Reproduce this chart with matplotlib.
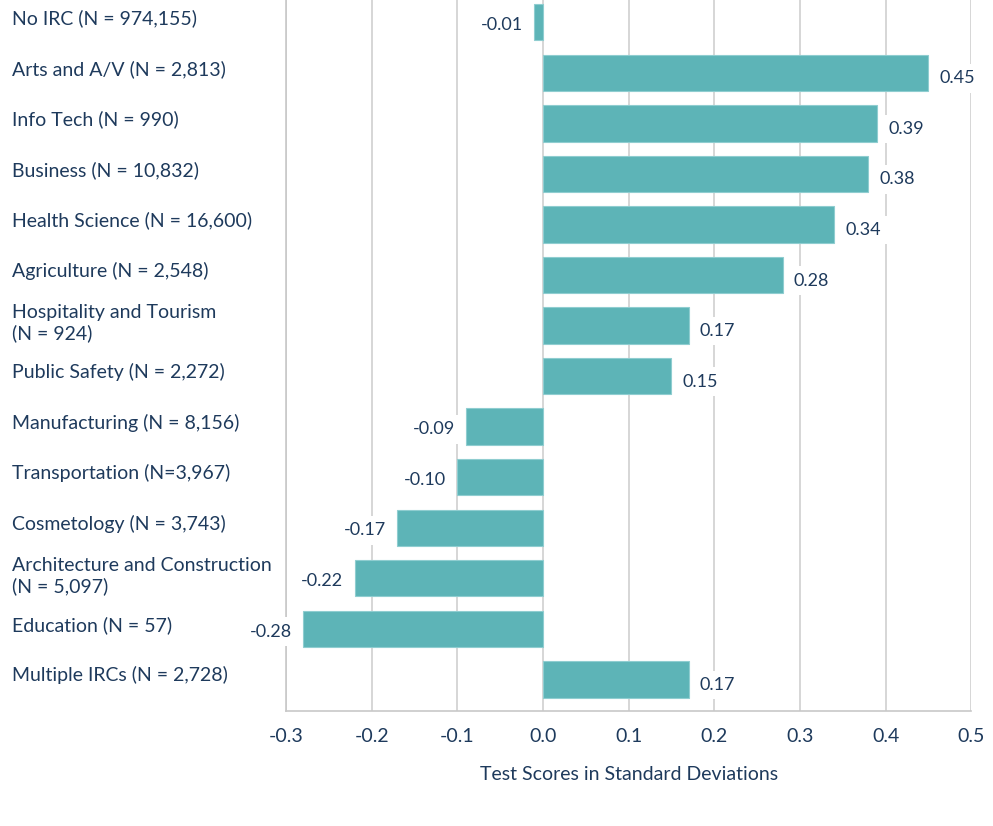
import matplotlib.pyplot as plt
import matplotlib.transforms as mtransforms

categories = ['No IRC (N = 974,155)', 'Arts and A/V (N = 2,813)',
              'Info Tech (N = 990)', 'Business (N = 10,832)',
              'Health Science (N = 16,600)', 'Agriculture (N = 2,548)',
              'Hospitality and Tourism\n(N = 924)',
              'Public Safety (N = 2,272)', 'Manufacturing (N = 8,156)',
              'Transportation (N=3,967)', 'Cosmetology (N = 3,743)',
              'Architecture and Construction\n(N = 5,097)',
              'Education (N = 57)', 'Multiple IRCs (N = 2,728)']
values = [-0.01, 0.45, 0.39, 0.38, 0.34, 0.28, 0.17, 0.15,
          -0.09, -0.10, -0.17, -0.22, -0.28, 0.17]
xticks = [-0.3, -0.2, -0.1, 0.0, 0.1, 0.2, 0.3, 0.4, 0.5]

navy = '#1e3a5c'
teal = '#5db4b7'

plt.rcParams['font.family'] = ['Lato', 'DejaVu Sans']

fig = plt.figure(figsize=(9.93, 8.26), dpi=100)
ax = fig.add_axes([0.288, 0.139, 0.690, 0.861])

pos = list(range(len(values)))
ax.barh(pos, values, height=0.72, color=teal, edgecolor='#8fcdd0',
        linewidth=0.8, zorder=2)

for y, v in zip(pos, values):
    if v >= 0:
        ax.annotate('%.2f' % v, (v, y), xytext=(8, -4),
                    textcoords='offset points', ha='left', va='center',
                    fontsize=13, color=navy, zorder=3,
                    bbox=dict(boxstyle='square,pad=0.35', fc='white',
                              ec='none'))
    else:
        ax.annotate('%.2f' % v, (v, y), xytext=(-8, -2),
                    textcoords='offset points', ha='right', va='center',
                    fontsize=13, color=navy, zorder=3,
                    bbox=dict(boxstyle='square,pad=0.35', fc='white',
                              ec='none'))

ax.set_xlim(-0.3, 0.5)
ax.set_ylim(13.63, -0.44)
ax.set_xticks(xticks)
ax.set_xticklabels(['%.1f' % t for t in xticks], fontsize=14, color=navy)
ax.set_yticks(pos)
ax.set_yticklabels(categories, fontsize=14, color=navy, ha='left',
                   linespacing=1.25)
ax.tick_params(axis='y', length=0, pad=197)
ax.tick_params(axis='x', length=0, pad=12)

# nudge the category labels up a little
shift = mtransforms.ScaledTranslation(0, 4 / 72, fig.dpi_scale_trans)
for lab in ax.get_yticklabels():
    lab.set_transform(lab.get_transform() + shift)

ax.xaxis.grid(True, color='#cfcfcf', linewidth=1.2, zorder=0)
ax.set_axisbelow(True)
for s in ['top', 'right']:
    ax.spines[s].set_visible(False)
for s in ['left', 'bottom']:
    ax.spines[s].set_color('#c8c8c8')
    ax.spines[s].set_linewidth(1.2)
ax.set_xlabel('Test Scores in Standard Deviations', fontsize=14,
              color=navy, labelpad=15)

fig.savefig('out.png', dpi=100)
